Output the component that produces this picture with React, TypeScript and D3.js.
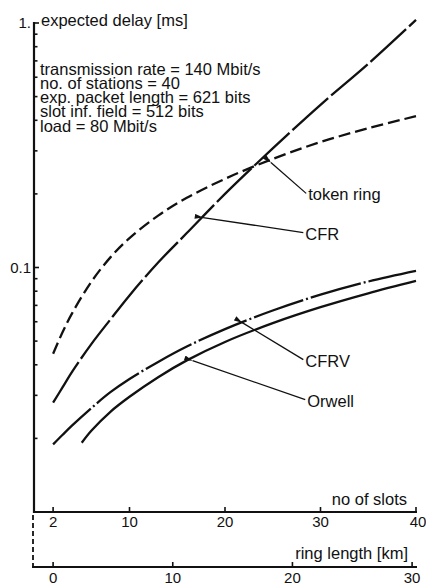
import React, { useEffect, useRef } from 'react';
import * as d3 from 'd3';

// no of slots at which the curves were read
const slots = [2, 3, 4, 6, 8, 10, 13, 16, 20, 25, 30, 35, 40];
const orwellSlots = [5, 6, 8, 10, 13, 16, 20, 25, 30, 35, 40];

// expected delay [ms]
const tokenRing = [0.0444, 0.0545, 0.0651, 0.0874, 0.11, 0.1318, 0.163, 0.1927, 0.2305, 0.278, 0.326, 0.371, 0.416];
const cfr = [0.028, 0.0324, 0.0375, 0.0486, 0.0613, 0.0769, 0.1048, 0.1383, 0.2, 0.307, 0.463, 0.681, 1.03];
const cfrv = [0.0189, 0.0207, 0.0226, 0.0266, 0.0309, 0.035, 0.0411, 0.0475, 0.056, 0.0667, 0.0774, 0.0876, 0.0968];
const orwell = [0.0192, 0.0215, 0.0257, 0.0296, 0.0356, 0.0417, 0.0496, 0.0592, 0.0688, 0.0784, 0.0881];

const slotTicks = [2, 10, 20, 30, 40];
const kmTicks = [0, 10, 20, 30];

const params = [
  'transmission rate = 140 Mbit/s',
  'no. of stations = 40',
  'exp. packet length = 621 bits',
  'slot inf. field = 512 bits',
  'load = 80 Mbit/s',
];

// label arrows: tip on the curve, tail at the label (slot, delay)
const labels = [
  { text: 'token ring', tip: [24.7, 0.269], tail: [28.5, 0.201] },
  { text: 'CFR', tip: [17.6, 0.16], tail: [28.2, 0.139] },
  { text: 'CFRV', tip: [21.7, 0.0595], tail: [28.2, 0.042] },
  { text: 'Orwell', tip: [16.5, 0.0416], tail: [28.4, 0.0288] },
];

const font = '"Liberation Sans", Arial, Helvetica, sans-serif';

function Chart() {
  const ref = useRef<SVGSVGElement>(null);

  useEffect(() => {
    const width = 426,
      height = 586;
    const left = 34,
      right = 416,
      top = 23,
      bottom = 512,
      kmAxisY = 567;

    const svg = d3.select(ref.current);
    svg.selectAll('*').remove();
    svg.attr('width', width).attr('height', height);

    const x = d3.scaleLinear().domain([0, 40]).range([left, right]);
    const y = d3.scaleLog().domain([0.01, 1]).range([bottom, top]);
    const km = d3.scaleLinear().domain([0, 30]).range([x(2), x(2) + 359]);

    svg.append('defs')
      .append('marker')
      .attr('id', 'head')
      .attr('viewBox', '0 0 10 6')
      .attr('refX', 0)
      .attr('refY', 3)
      .attr('markerWidth', 9)
      .attr('markerHeight', 5)
      .attr('markerUnits', 'userSpaceOnUse')
      .attr('orient', 'auto-start-reverse')
      .append('path')
      .attr('d', 'M0,3L10,0L10,6Z')
      .attr('fill', '#111');

    const g = svg.append('g').style('font-family', font).attr('fill', '#111');

    // y axis
    g.append('line')
      .attr('x1', left).attr('x2', left)
      .attr('y1', top - 1).attr('y2', bottom + 1)
      .attr('stroke', '#111').attr('stroke-width', 2.2);

    const yTicks = d3.range(2, 10).map(d => d / 100)
      .concat(d3.range(1, 10).map(d => d / 10))
      .concat([1]);
    g.selectAll('.ytick')
      .data(yTicks)
      .enter()
      .append('line')
      .attr('x1', left).attr('x2', d => left + (d === 1 || d === 0.1 ? 5 : 3.5))
      .attr('y1', d => y(d)).attr('y2', d => y(d))
      .attr('stroke', '#111').attr('stroke-width', 1.6);

    g.append('text').attr('x', 31).attr('y', y(1) + 5)
      .attr('text-anchor', 'end').style('font-size', '15px').text('1.');
    g.append('text').attr('x', 31).attr('y', y(0.1) + 5)
      .attr('text-anchor', 'end').style('font-size', '15px').text('0.1');

    g.append('text').attr('x', 41).attr('y', 25.5)
      .style('font-size', '16.5px').text('expected delay [ms]');

    g.selectAll('.param')
      .data(params)
      .enter()
      .append('text')
      .attr('x', 40)
      .attr('y', (d, i) => 74.5 + i * 14.3)
      .style('font-size', '16.5px')
      .text(d => d);

    // slots axis
    g.append('line')
      .attr('x1', left - 1).attr('x2', right + 1)
      .attr('y1', bottom).attr('y2', bottom)
      .attr('stroke', '#111').attr('stroke-width', 2.2);
    g.selectAll('.xtick')
      .data(slotTicks)
      .enter()
      .append('line')
      .attr('x1', d => x(d)).attr('x2', d => x(d))
      .attr('y1', bottom).attr('y2', bottom - 5)
      .attr('stroke', '#111').attr('stroke-width', 1.6);
    g.selectAll('.xlab')
      .data(slotTicks)
      .enter()
      .append('text')
      .attr('x', d => x(d) + (d === 40 ? 2 : 0))
      .attr('y', bottom + 15)
      .attr('text-anchor', 'middle')
      .style('font-size', '15px')
      .text(d => d);
    g.append('text').attr('x', 407).attr('y', 505)
      .attr('text-anchor', 'end').style('font-size', '16.5px').text('no of slots');

    // ring length axis
    g.append('line')
      .attr('x1', left - 1).attr('y1', bottom + 3)
      .attr('x2', left - 1).attr('y2', kmAxisY)
      .attr('stroke', '#111').attr('stroke-width', 1.8)
      .attr('stroke-dasharray', '5 3');
    g.append('line')
      .attr('x1', left - 2).attr('x2', right + 1)
      .attr('y1', kmAxisY).attr('y2', kmAxisY)
      .attr('stroke', '#111').attr('stroke-width', 2.2);
    g.selectAll('.ktick')
      .data(kmTicks)
      .enter()
      .append('line')
      .attr('x1', d => km(d)).attr('x2', d => km(d))
      .attr('y1', kmAxisY).attr('y2', kmAxisY - 5)
      .attr('stroke', '#111').attr('stroke-width', 1.6);
    g.selectAll('.klab')
      .data(kmTicks)
      .enter()
      .append('text')
      .attr('x', d => km(d))
      .attr('y', kmAxisY + 16)
      .attr('text-anchor', 'middle')
      .style('font-size', '15px')
      .text(d => d);
    g.append('text').attr('x', 408).attr('y', 559)
      .attr('text-anchor', 'end').style('font-size', '16.5px').text('ring length [km]');

    // curves
    const line = d3.line<[number, number]>()
      .x(d => x(d[0]))
      .y(d => y(d[1]))
      .curve(d3.curveCatmullRom.alpha(0.5));

    const series = [
      { xs: slots, ys: tokenRing, dash: '12 5' },
      { xs: slots, ys: cfr, dash: '48 4' },
      { xs: slots, ys: cfrv, dash: '52 3 2 3' },
      { xs: orwellSlots, ys: orwell, dash: null },
    ];

    g.selectAll('.curve')
      .data(series)
      .enter()
      .append('path')
      .attr('d', d => line(d.xs.map((s, i) => [s, d.ys[i]] as [number, number])))
      .attr('fill', 'none')
      .attr('stroke', '#111')
      .attr('stroke-width', 2.3)
      .attr('stroke-dasharray', d => d.dash);

    // labels with arrows
    g.selectAll('.arrow')
      .data(labels)
      .enter()
      .append('line')
      .attr('x1', d => x(d.tip[0]) + 1).attr('y1', d => y(d.tip[1]))
      .attr('x2', d => x(d.tail[0])).attr('y2', d => y(d.tail[1]))
      .attr('stroke', '#111').attr('stroke-width', 1.3)
      .attr('marker-start', 'url(#head)');
    g.selectAll('.lab')
      .data(labels)
      .enter()
      .append('text')
      .attr('x', d => x(d.tail[0]) + 2)
      .attr('y', d => y(d.tail[1]) + 7)
      .style('font-size', '16.5px')
      .text(d => d.text);
  }, []);

  return <svg ref={ref} style={{ position: 'absolute', left: 0, top: 0, background: '#fff' }} />;
}

export default function App() {
  return <Chart />;
}
